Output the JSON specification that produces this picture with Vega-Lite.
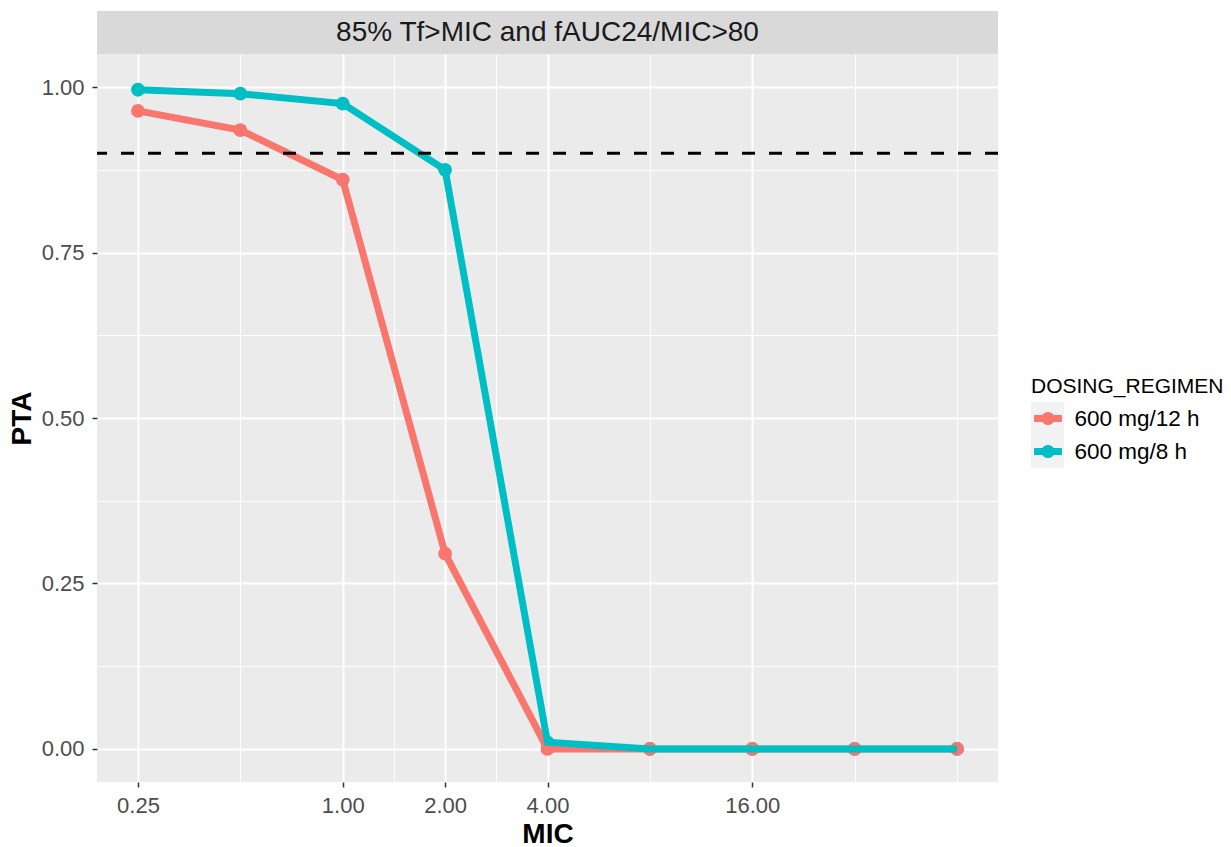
{
  "$schema": "https://vega.github.io/schema/vega-lite/v6.json",
  "padding": {"left": 8, "top": 11, "right": 0, "bottom": 0},
  "spacing": 0,
  "config": {
    "font": "Liberation Sans",
    "view": {"stroke": null},
    "concat": {"spacing": 0}
  },
  "datasets": {
    "pta": [
      {"MIC": 0.25, "PTA": 0.964, "DOSING_REGIMEN": "600 mg/12 h"},
      {"MIC": 0.5, "PTA": 0.935, "DOSING_REGIMEN": "600 mg/12 h"},
      {"MIC": 1, "PTA": 0.860, "DOSING_REGIMEN": "600 mg/12 h"},
      {"MIC": 2, "PTA": 0.295, "DOSING_REGIMEN": "600 mg/12 h"},
      {"MIC": 4, "PTA": 0.0, "DOSING_REGIMEN": "600 mg/12 h"},
      {"MIC": 8, "PTA": 0.0, "DOSING_REGIMEN": "600 mg/12 h"},
      {"MIC": 16, "PTA": 0.0, "DOSING_REGIMEN": "600 mg/12 h"},
      {"MIC": 32, "PTA": 0.0, "DOSING_REGIMEN": "600 mg/12 h"},
      {"MIC": 64, "PTA": 0.0, "DOSING_REGIMEN": "600 mg/12 h"},
      {"MIC": 0.25, "PTA": 0.996, "DOSING_REGIMEN": "600 mg/8 h"},
      {"MIC": 0.5, "PTA": 0.990, "DOSING_REGIMEN": "600 mg/8 h"},
      {"MIC": 1, "PTA": 0.975, "DOSING_REGIMEN": "600 mg/8 h"},
      {"MIC": 2, "PTA": 0.875, "DOSING_REGIMEN": "600 mg/8 h"},
      {"MIC": 4, "PTA": 0.010, "DOSING_REGIMEN": "600 mg/8 h"},
      {"MIC": 8, "PTA": 0.0, "DOSING_REGIMEN": "600 mg/8 h"},
      {"MIC": 16, "PTA": 0.0, "DOSING_REGIMEN": "600 mg/8 h"},
      {"MIC": 32, "PTA": 0.0, "DOSING_REGIMEN": "600 mg/8 h"},
      {"MIC": 64, "PTA": 0.0, "DOSING_REGIMEN": "600 mg/8 h"}
    ],
    "target": [{"PTA": 0.9}],
    "keys": [
      {"regimen_key": "600 mg/12 h"},
      {"regimen_key": "600 mg/8 h"}
    ],
    "strip": [{"label": "85% Tf>MIC and fAUC24/MIC>80"}]
  },
  "vconcat": [
    {
      "width": 901,
      "height": 43,
      "view": {"fill": "#D9D9D9", "stroke": null},
      "data": {"name": "strip"},
      "mark": {"type": "text", "fontSize": 28, "color": "#1A1A1A", "align": "center", "baseline": "middle"},
      "encoding": {"text": {"field": "label", "type": "nominal"}}
    },
    {
      "width": 901,
      "height": 728,
      "view": {"fill": "#EBEBEB", "stroke": null},
      "layer": [
        {
          "data": {"name": "keys"},
          "mark": {"type": "point", "filled": true, "color": "#F2F2F2", "opacity": 0},
          "encoding": {
            "shape": {
              "field": "regimen_key",
              "type": "nominal",
              "scale": {"range": ["square", "square"]},
              "legend": {
                "orient": "none", "legendX": 934, "legendY": 365, "zindex": 0,
                "padding": 0, "rowPadding": 0, "clipHeight": 33,
                "title": "DOSING_REGIMEN", "titleFontSize": 21, "titleFontWeight": "normal",
                "titleLimit": 300, "titleOpacity": 0, "titlePadding": 5,
                "labelExpr": "''", "labelFontSize": 22.5,
                "symbolSize": 1089, "symbolFillColor": "#F2F2F2",
                "symbolStrokeColor": "transparent", "symbolStrokeWidth": 0,
                "symbolOpacity": 1
              }
            }
          }
        },
        {
          "data": {"name": "pta"},
          "mark": {"type": "point", "filled": true, "opacity": 1, "size": 190},
          "encoding": {
            "x": {
              "field": "MIC", "type": "quantitative",
              "scale": {"type": "log", "base": 2, "domain": [0.18946, 84.4485], "nice": false},
              "axis": {
                "values": [0.25, 0.5, 1, 1.41421356, 2, 2.82842712, 4, 8, 16, 32, 64],
                "format": ".2f",
                "labelExpr": "indexof([0.25,1,2,4,16], datum.value) >= 0 ? datum.label : ''",
                "labelOverlap": false, "labelFlush": false,
                "labelFontSize": 22, "labelColor": "#4D4D4D", "labelPadding": 8,
                "tickColor": "#333333", "tickWidth": 1.5, "tickSize": 5,
                "tickOpacity": {"condition": {"test": "indexof([0.25,1,2,4,16], datum.value) >= 0", "value": 1}, "value": 0},
                "gridColor": "#FFFFFF",
                "gridWidth": {"condition": {"test": "indexof([0.25,1,2,4,16], datum.value) >= 0", "value": 2}, "value": 1.1},
                "domain": false,
                "title": "MIC", "titleFontSize": 28, "titleFontWeight": "bold", "titleColor": "#000000", "titlePadding": 4
              }
            },
            "y": {
              "field": "PTA", "type": "quantitative",
              "scale": {"domain": [-0.05, 1.05], "nice": false, "zero": false},
              "axis": {
                "values": [0, 0.125, 0.25, 0.375, 0.5, 0.625, 0.75, 0.875, 1],
                "format": ".2f",
                "labelExpr": "indexof([0,0.25,0.5,0.75,1], datum.value) >= 0 ? datum.label : ''",
                "labelOverlap": false, "labelFlush": false,
                "labelFontSize": 22, "labelColor": "#4D4D4D", "labelPadding": 8,
                "tickColor": "#333333", "tickWidth": 1.5, "tickSize": 5,
                "tickOpacity": {"condition": {"test": "indexof([0,0.25,0.5,0.75,1], datum.value) >= 0", "value": 1}, "value": 0},
                "gridColor": "#FFFFFF",
                "gridWidth": {"condition": {"test": "indexof([0,0.25,0.5,0.75,1], datum.value) >= 0", "value": 2}, "value": 1.1},
                "domain": false,
                "title": "PTA", "titleFontSize": 28, "titleFontWeight": "bold", "titleColor": "#000000", "titlePadding": 5
              }
            },
            "color": {
              "field": "DOSING_REGIMEN", "type": "nominal",
              "scale": {"domain": ["600 mg/12 h", "600 mg/8 h"], "range": ["#F8766D", "#00BFC4"]},
              "legend": {
                "orient": "none", "legendX": 934, "legendY": 365, "zindex": 1,
                "padding": 0, "rowPadding": 0, "clipHeight": 33,
                "title": "DOSING_REGIMEN", "titleFontSize": 21, "titleFontWeight": "normal",
                "titleLimit": 300, "titleColor": "#000000", "titlePadding": 5,
                "labelFontSize": 22.5, "labelColor": "#000000", "labelOffset": 6,
                "symbolType": "M-0.82,0H0.82M-0.18,0A0.18,0.18 0 1,1 0.18,0A0.18,0.18 0 1,1 -0.18,0Z",
                "symbolSize": 1156, "symbolStrokeWidth": 7, "symbolOpacity": 1, "symbolOffset": -3.5
              }
            },
            "order": {"field": "DOSING_REGIMEN", "sort": "descending"}
          }
        },
        {
          "data": {"name": "pta"},
          "mark": {"type": "line", "strokeWidth": 7},
          "encoding": {
            "x": {"field": "MIC", "type": "quantitative", "scale": {"type": "log", "base": 2, "domain": [0.18946, 84.4485], "nice": false}},
            "y": {"field": "PTA", "type": "quantitative", "scale": {"domain": [-0.05, 1.05], "nice": false, "zero": false}},
            "color": {"field": "DOSING_REGIMEN", "type": "nominal"}
          }
        },
        {
          "data": {"name": "target"},
          "mark": {"type": "rule", "strokeDash": [13, 14], "strokeWidth": 3, "color": "#000000"},
          "encoding": {
            "y": {"field": "PTA", "type": "quantitative", "scale": {"domain": [-0.05, 1.05], "nice": false, "zero": false}}
          }
        }
      ]
    }
  ]
}
